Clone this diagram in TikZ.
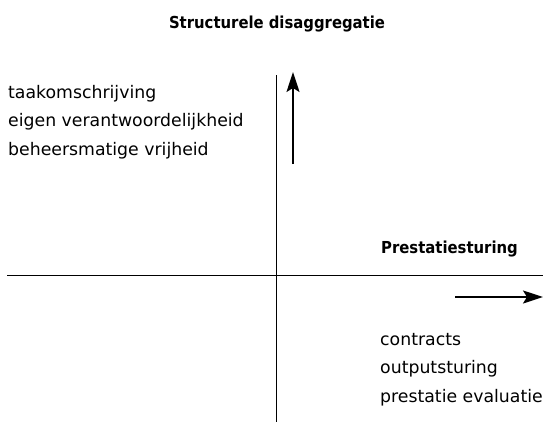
\documentclass[tikz,border=0pt]{standalone}
\usepackage{fontspec}
\setmainfont{DejaVu Sans}
\newfontfamily\kopfont{DejaVu Sans Condensed}[BoldFont={DejaVu Sans Condensed Bold}]
\usetikzlibrary{arrows.meta}
\begin{document}
\begin{tikzpicture}[x=1pt,y=-1pt]
\tikzset{regel/.style={anchor=base west,inner sep=0pt,font=\fontsize{17.3}{20}\selectfont},
	kop/.style={anchor=base,inner sep=0pt,font=\kopfont\fontsize{16.5}{19}\selectfont\bfseries},
	as/.style={line width=0.9pt},
	pijl/.style={line width=1.8pt,-{Stealth[length=20pt,width=13pt,inset=4pt]}}}
\useasboundingbox (0,0) rectangle (543,426);
% assen
\draw[as](7,275)coordinate(W)--(543,275)coordinate(E);
\draw[as](276.5,75)coordinate(N)--(276.5,422)coordinate(S);
% pijlen
\draw[pijl](293,164)coordinate(up0)--(293,72)coordinate(up1);
\draw[pijl](455,297)coordinate(re0)--(543,297)coordinate(re1);
% koppen
\node[kop](dis) at (277,28){Structurele disaggregatie};
\node[kop,anchor=base east](pre) at (518,253){Prestatiesturing};
% teksten
\foreach \t [count=\i] in {taakomschrijving,eigen verantwoordelijkheid,beheersmatige vrijheid}
	\node[regel](links\i) at (8,98+28.5*\i-28.5){\t};
\foreach \t [count=\i] in {contracts,outputsturing,prestatie evaluatie}
	\node[regel](rechts\i) at (380,345+28.5*\i-28.5){\t};
\end{tikzpicture}
\end{document}
